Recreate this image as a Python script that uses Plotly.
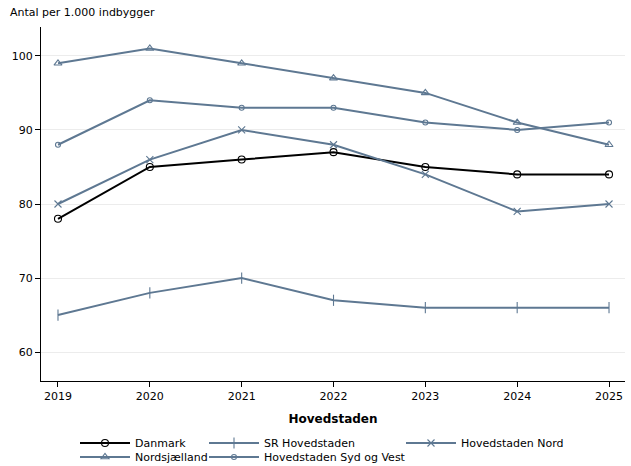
import plotly.graph_objects as go

years = [2019, 2020, 2021, 2022, 2023, 2024, 2025]
danmark = [78, 85, 86, 87, 85, 84, 84]
sr_hovedstaden = [65, 68, 70, 67, 66, 66, 66]
hovedstaden_nord = [80, 86, 90, 88, 84, 79, 80]
nordsjaelland = [99, 101, 99, 97, 95, 91, 88]
syd_og_vest = [88, 94, 93, 93, 91, 90, 91]

y_ticks = [60, 70, 80, 90, 100]

slate = "#5e7892"
FONT = "DejaVu Sans"

L, R, T, B = 41, 6, 27, 85
W, H = 631, 466
PW, PH = W - L - R, H - T - B

fig = go.Figure()

def add(name, vals, color, symbol, size, legend, lw=2):
    fig.add_trace(go.Scatter(
        x=years, y=vals, name=name, mode="lines+markers",
        line=dict(color=color, width=lw),
        marker=dict(symbol=symbol, size=size, color=color,
                    line=dict(color=color, width=1.1)),
        legend=legend,
    ))

add("Danmark", danmark, "#000000", "circle-open", 7, "legend")
add("SR Hovedstaden", sr_hovedstaden, slate, "line-ns-open", 8, "legend2")
add("Hovedstaden Nord", hovedstaden_nord, slate, "x-thin-open", 7, "legend3")
add("Nordsjælland", nordsjaelland, slate, "triangle-up-open", 7, "legend4")
add("Hovedstaden Syd og Vest", syd_og_vest, slate, "circle-open", 5, "legend5")

def leg(px, py):
    return dict(
        orientation="v", yanchor="middle", xanchor="left",
        x=(px - L) / PW, y=(H - B - py) / PH,
        font=dict(family=FONT, size=11, color="#000000"),
        bgcolor="rgba(0,0,0,0)", itemwidth=50, itemclick=False,
    )

fig.update_layout(
    width=W, height=H,
    paper_bgcolor="white", plot_bgcolor="white",
    margin=dict(l=L, r=R, t=T, b=B, autoexpand=False),
    font=dict(family=FONT, size=11, color="#000000"),
    xaxis=dict(
        range=[2018.815, 2025.174], tickmode="array", tickvals=years,
        ticktext=[str(y) for y in years],
        showgrid=False, zeroline=False,
        showline=True, linecolor="#000000", linewidth=1,
        ticks="outside", ticklen=5, tickcolor="#000000",
        tickfont=dict(family=FONT, size=11),
        title=dict(text="<b>Hovedstaden</b>", font=dict(family=FONT, size=12), standoff=12),
        automargin=False,
    ),
    yaxis=dict(
        range=[56.1, 103.9], tickmode="array", tickvals=y_ticks,
        showgrid=True, gridcolor="#ececec", gridwidth=1, zeroline=False,
        showline=True, linecolor="#000000", linewidth=1,
        ticks="outside", ticklen=5, tickcolor="#000000",
        tickfont=dict(family=FONT, size=11),
        automargin=False,
    ),
    legend=leg(75, 443),
    legend2=leg(204, 443),
    legend3=leg(401, 443),
    legend4=leg(75, 457),
    legend5=leg(204, 457),
    showlegend=True,
)

fig.add_annotation(
    text="Antal per 1.000 indbygger", xref="paper", yref="paper",
    x=-33 / PW, y=1, xanchor="left", yanchor="bottom", yshift=6,
    showarrow=False, font=dict(family=FONT, size=11, color="#000000"),
)

fig.write_html(
    "out.html",
    config={"displayModeBar": False},
    post_script="document.body.style.margin='0';",
)
